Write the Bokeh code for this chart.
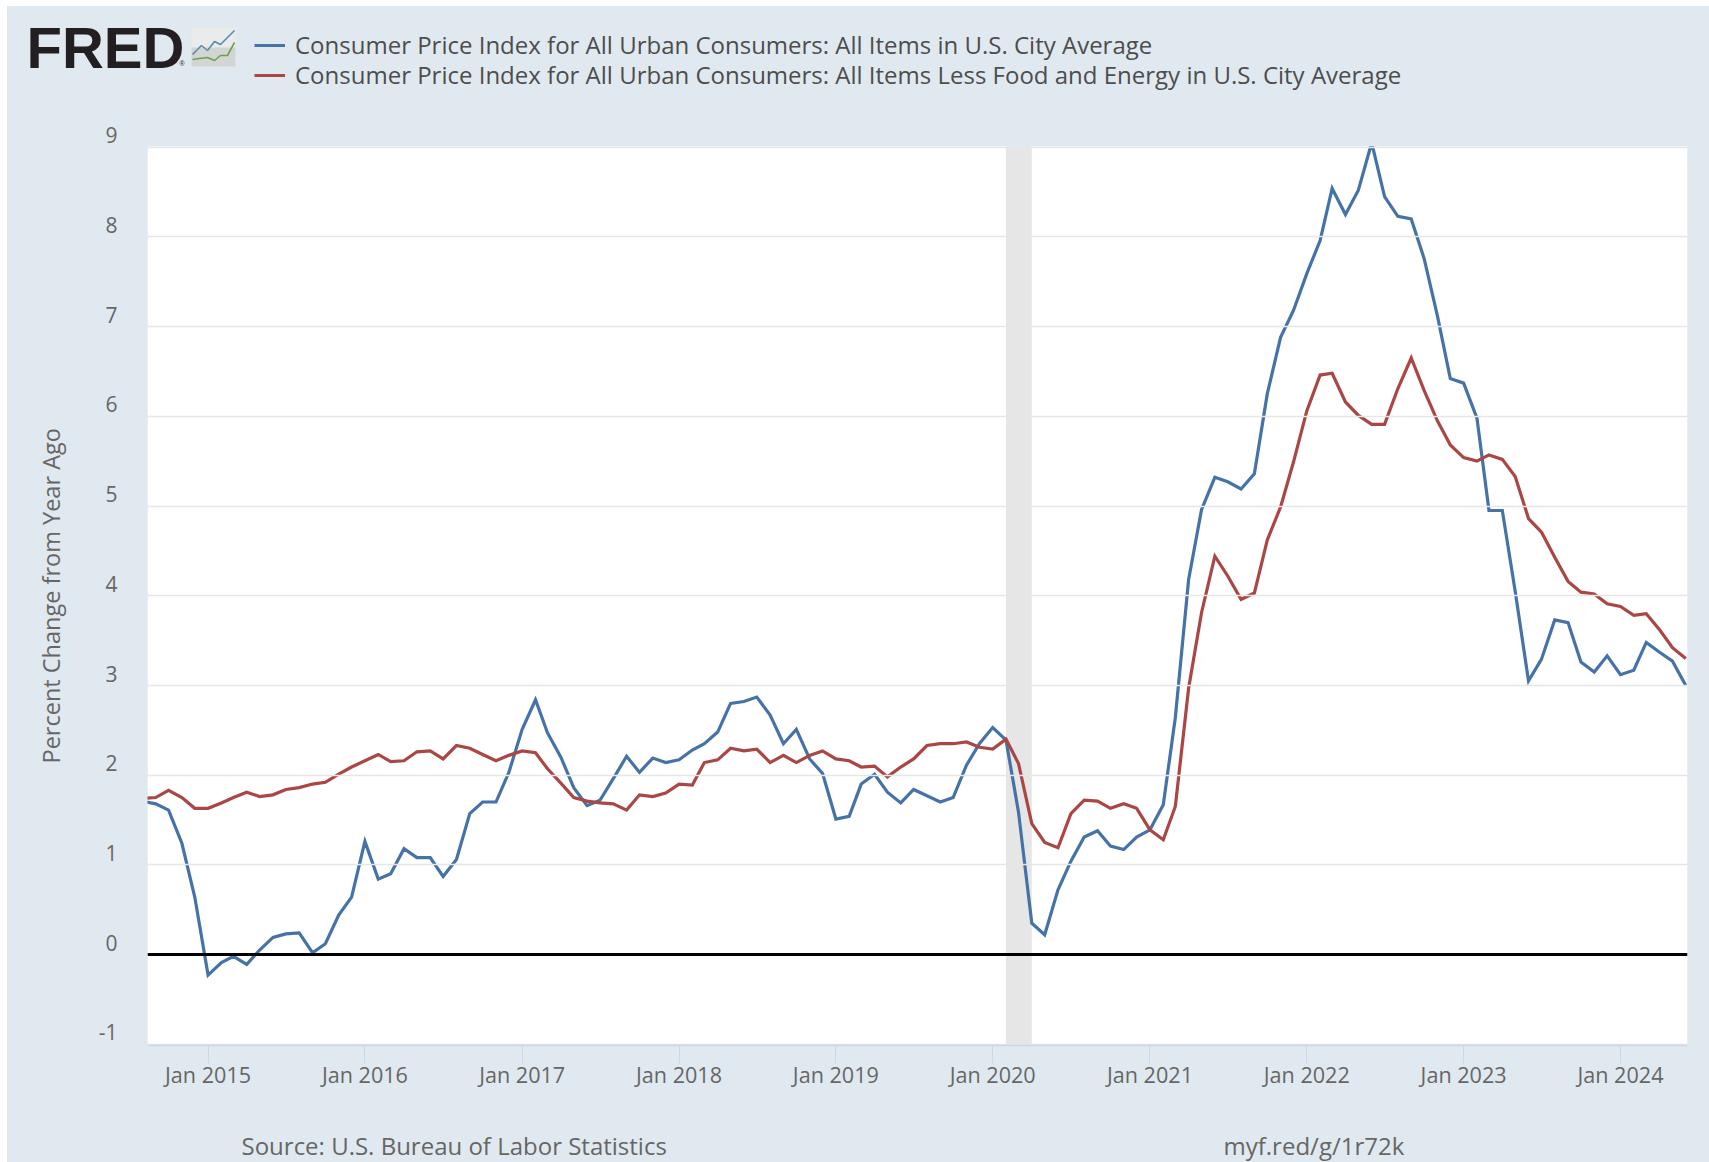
from datetime import datetime
from bokeh.plotting import figure
from bokeh.layouts import column
from bokeh.core.properties import value
from bokeh.models import (Range1d, FixedTicker, DatetimeTickFormatter, Span, Title, BoxAnnotation,
                          Legend, LegendItem, ColumnDataSource)
from bokeh.embed import file_html
from bokeh.resources import INLINE

# Percent change from year ago, monthly, Aug 2014 .. Jun 2024
all_items_2014 = [1.71, 1.68, 1.61, 1.24, 0.64]
all_items_2015 = [-0.23, -0.09, -0.02, -0.11, 0.05, 0.19, 0.23, 0.24, 0.02, 0.12, 0.44, 0.64]
all_items_2016 = [1.26, 0.84, 0.90, 1.18, 1.08, 1.08, 0.87, 1.06, 1.57, 1.70, 1.70, 2.03]
all_items_2017 = [2.51, 2.84, 2.47, 2.20, 1.86, 1.66, 1.72, 1.96, 2.21, 2.03, 2.19, 2.14]
all_items_2018 = [2.17, 2.28, 2.35, 2.48, 2.80, 2.82, 2.87, 2.67, 2.35, 2.51, 2.18, 2.02]
all_items_2019 = [1.51, 1.54, 1.90, 2.01, 1.81, 1.69, 1.84, 1.77, 1.70, 1.75, 2.11, 2.35]
all_items_2020 = [2.53, 2.39, 1.59, 0.35, 0.22, 0.72, 1.04, 1.31, 1.38, 1.21, 1.17, 1.31]
all_items_2021 = [1.39, 1.67, 2.64, 4.18, 4.96, 5.32, 5.27, 5.19, 5.36, 6.25, 6.88, 7.18]
all_items_2022 = [7.59, 7.96, 8.54, 8.25, 8.52, 9.05, 8.45, 8.23, 8.20, 7.76, 7.12, 6.42]
all_items_2023 = [6.37, 5.98, 4.95, 4.95, 4.05, 3.05, 3.29, 3.73, 3.70, 3.26, 3.15, 3.33]
all_items_2024 = [3.12, 3.17, 3.48, 3.37, 3.27, 3.00]

core_2014 = [1.74, 1.75, 1.83, 1.75, 1.63]
core_2015 = [1.63, 1.69, 1.75, 1.81, 1.76, 1.78, 1.84, 1.86, 1.90, 1.92, 2.01, 2.09]
core_2016 = [2.16, 2.23, 2.15, 2.16, 2.26, 2.27, 2.18, 2.33, 2.30, 2.23, 2.16, 2.22]
core_2017 = [2.27, 2.25, 2.07, 1.91, 1.75, 1.71, 1.69, 1.68, 1.61, 1.78, 1.76, 1.80]
core_2018 = [1.90, 1.89, 2.14, 2.17, 2.30, 2.27, 2.29, 2.14, 2.22, 2.14, 2.22, 2.27]
core_2019 = [2.18, 2.16, 2.09, 2.10, 1.98, 2.09, 2.18, 2.33, 2.35, 2.35, 2.37, 2.31]
core_2020 = [2.29, 2.40, 2.13, 1.46, 1.25, 1.19, 1.57, 1.72, 1.71, 1.63, 1.68, 1.63]
core_2021 = [1.39, 1.28, 1.65, 2.97, 3.81, 4.44, 4.22, 3.96, 4.03, 4.62, 4.99, 5.49]
core_2022 = [6.06, 6.46, 6.48, 6.16, 6.01, 5.91, 5.91, 6.31, 6.65, 6.29, 5.95, 5.68]
core_2023 = [5.54, 5.50, 5.57, 5.52, 5.33, 4.86, 4.71, 4.43, 4.16, 4.04, 4.02, 3.91]
core_2024 = [3.88, 3.78, 3.80, 3.62, 3.42, 3.30]

all_items = (all_items_2014 + all_items_2015 + all_items_2016 + all_items_2017 + all_items_2018 + all_items_2019
             + all_items_2020 + all_items_2021 + all_items_2022 + all_items_2023 + all_items_2024)
core = (core_2014 + core_2015 + core_2016 + core_2017 + core_2018 + core_2019
        + core_2020 + core_2021 + core_2022 + core_2023 + core_2024)
names = ["Consumer Price Index for All Urban Consumers: All Items in U.S. City Average",
         "Consumer Price Index for All Urban Consumers: All Items Less Food and Energy in U.S. City Average"]
y_ticks = [-1, 0, 1, 2, 3, 4, 5, 6, 7, 8, 9]
x_tick_years = [2015, 2016, 2017, 2018, 2019, 2020, 2021, 2022, 2023, 2024]
recession = (datetime(2020, 2, 1), datetime(2020, 4, 1))

dates = []
yr, mo = 2014, 8
for _ in all_items:
    dates.append(datetime(yr, mo, 1))
    mo += 1
    if mo > 12:
        yr, mo = yr + 1, 1

BG = "#e1e9f0"
FONT = "Open Sans"
TXT = "#666666"
W = 1702           # panel width (page is 1709, panel starts at x=7)
Y_TOP = 9.01       # top of the white plot area
Y_BOT = -1.0145
Y_EXT = 9.231      # frame reaches above the white area so the "9" label has room
LABEL_SHIFT = 0.132  # tick labels sit just above their grid lines
X_START = datetime(2014, 8, 13)
X_END = datetime(2024, 6, 5)

# ---------- header: logo and legend ----------
h = figure(width=W, height=100, output_backend="svg", toolbar_location=None, frame_align=False,
           x_range=Range1d(7, 1709), y_range=Range1d(106, 6), x_axis_type=None, y_axis_type=None,
           min_border=0, min_border_left=0, min_border_right=0, min_border_top=0, min_border_bottom=0,
           background_fill_color=BG, border_fill_color=BG, outline_line_color=None)
h.grid.visible = False
h.text(x=[26], y=[46.5], text=["FRED"], text_font=value("Liberation Sans"), text_font_style="bold",
       text_font_size="58px", text_color="#231f20", text_baseline="alphabetic")
h.text(x=[179], y=[63], text=["®"], text_font=value("Liberation Sans"), text_font_size="7px",
       text_color="#231f20", text_baseline="alphabetic")
h.quad(left=[191], right=[235], top=[27], bottom=[47], fill_color="#eaebeb", line_color=None)
h.quad(left=[191], right=[235], top=[47], bottom=[66], fill_color="#d3d5d5", line_color=None)
h.line([192, 201, 207, 214, 220, 226, 234], [54, 45, 50, 41, 44, 38, 30], line_color="#5b8cab", line_width=1.6)
h.line([192, 199, 207, 214, 220, 227, 234], [59, 58, 57, 60, 55, 55, 42], line_color="#6fa24a", line_width=1.6)
k1 = h.line([-50, -40], [0, 0], line_color="#4572a7", line_width=3)
k2 = h.line([-50, -40], [0, 0], line_color="#aa4643", line_width=3)
# one legend per row: the rows of the original sit closer than a single Bokeh legend allows
for label, key, row_y in ((names[0], k1, 45), (names[1], k2, 15)):
    h.add_layout(Legend(items=[LegendItem(label=label, renderers=[key])], location=(247, row_y),
                        background_fill_alpha=0, border_line_color=None, padding=0, margin=0,
                        glyph_width=31, glyph_height=20, label_height=20, label_standoff=10,
                        label_text_font=FONT, label_text_font_size="24px", label_text_color="#4d4d4d"), "center")

# ---------- main chart ----------
p = figure(width=W, height=1004, output_backend="svg", toolbar_location=None, frame_align=False,
           x_axis_type="datetime",
           x_range=Range1d(X_START, X_END),
           y_range=Range1d(Y_BOT, Y_EXT),
           min_border_left=140, min_border_right=22, min_border_top=20, min_border_bottom=65,
           background_fill_color=BG, border_fill_color=BG, outline_line_color=None)
p.extra_y_ranges = {"labels": Range1d(Y_BOT - LABEL_SHIFT, Y_EXT - LABEL_SHIFT)}

p.xgrid.visible = False
p.ygrid.ticker = FixedTicker(ticks=y_ticks)
p.ygrid.grid_line_color = "#e6e6e6"
p.ygrid.grid_line_width = 1.5
p.ygrid.level = "glyph"

xa = p.xaxis[0]
xa.ticker = FixedTicker(ticks=[datetime(y, 1, 1).timestamp() * 1000 for y in x_tick_years])
xa.formatter = DatetimeTickFormatter(months="%b %Y", years="%b %Y", days="%b %Y", hours="%b %Y",
                                     minutes="%b %Y", seconds="%b %Y", milliseconds="%b %Y",
                                     microseconds="%b %Y", context=None)
xa.axis_line_color = "#ccd6eb"
xa.axis_line_width = 1.5
xa.major_tick_line_color = "#ccd6eb"
xa.major_tick_line_width = 1
xa.major_tick_in = 0
xa.major_tick_out = 18
xa.minor_tick_line_color = None
xa.major_label_text_font = FONT
xa.major_label_text_font_size = "21.6px"
xa.major_label_text_color = TXT
xa.major_label_standoff = -4

# tick labels: on a slightly shifted range so they sit above their grid lines
ya = p.yaxis[0]
ya.y_range_name = "labels"
ya.ticker = FixedTicker(ticks=y_ticks)
ya.major_label_overrides = {t: str(t) for t in y_ticks}
ya.axis_line_color = None
ya.major_tick_line_color = None
ya.minor_tick_line_color = None
ya.major_tick_in = 0
ya.major_tick_out = 0
ya.major_label_text_font = FONT
ya.major_label_text_font_size = "21px"
ya.major_label_text_color = TXT
ya.major_label_standoff = 30

# axis title, placed so it is centred on the white plot area rather than the whole frame
p.add_layout(Title(text="Percent Change from Year Ago", align="left", offset=282, standoff=53,
                   vertical_align="top",
                   text_font=FONT, text_font_size="23.5px", text_font_style="normal", text_color=TXT), "left")

# white plot area, under the grid
p.quad(left=[X_START], right=[X_END], bottom=[Y_BOT], top=[Y_TOP], fill_color="white", line_color=None, level="underlay")
p.quad(left=[recession[0]], right=[recession[1]], bottom=[Y_BOT], top=[Y_TOP],
       fill_color="#e6e6e6", line_color=None)

src = ColumnDataSource(dict(date=dates, all_items=all_items, core=core))
p.line("date", "all_items", source=src, line_color="#4572a7", line_width=3.2, line_join="miter")
p.line("date", "core", source=src, line_color="#aa4643", line_width=3.2, line_join="miter")
p.add_layout(Span(location=0, dimension="width", line_color="black", line_width=3))
# the strip above the white area hides what rises past the top of the scale
p.add_layout(BoxAnnotation(bottom=Y_TOP, fill_color=BG, fill_alpha=1, line_color=None, level="overlay"))

# ---------- footer ----------
f = figure(width=W, height=52, output_backend="svg", toolbar_location=None, frame_align=False,
           x_range=Range1d(7, 1709), y_range=Range1d(1162, 1110), x_axis_type=None, y_axis_type=None,
           min_border=0, min_border_left=0, min_border_right=0, min_border_top=0, min_border_bottom=0,
           background_fill_color=BG, border_fill_color=BG, outline_line_color=None)
f.grid.visible = False
f.text(x=[241, 1223], y=[1144.5, 1144.5], text=["Source: U.S. Bureau of Labor Statistics", "myf.red/g/1r72k"],
       text_font=value(FONT), text_font_size="24px", text_color=TXT, text_baseline="alphabetic")

page = column(h, p, f, spacing=0, margin=(6, 0, 0, 7), styles={"background-color": BG})
open("out.html", "w").write(file_html(page, INLINE))
